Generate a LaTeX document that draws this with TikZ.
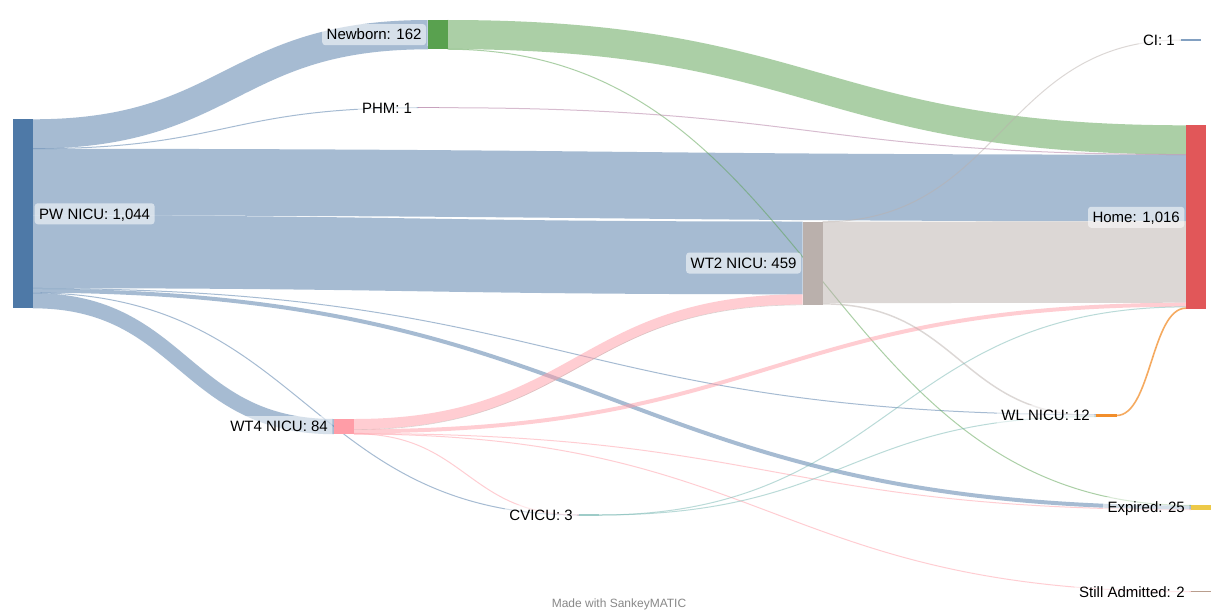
\documentclass[tikz,border=0pt]{standalone}
\usepackage{fontspec}
\setmainfont{Liberation Sans}
\usetikzlibrary{calc}
\definecolor{cblue}{HTML}{4E79A7}
\definecolor{corange}{HTML}{F28E2B}
\definecolor{cred}{HTML}{E15759}
\definecolor{cteal}{HTML}{76B7B2}
\definecolor{cgreen}{HTML}{59A14F}
\definecolor{cyellow}{HTML}{EDC948}
\definecolor{cpurple}{HTML}{B07AA1}
\definecolor{cpink}{HTML}{FF9DA7}
\definecolor{cbrown}{HTML}{9C755F}
\definecolor{cgray}{HTML}{BAB0AC}
\definecolor{credit}{HTML}{888888}
\tikzset{
  sknode/.style={rectangle, inner sep=0pt, outer sep=0pt, minimum width=20pt, anchor=north west, draw=none},
  lbl/.style={rectangle, rounded corners=3pt, fill=white, fill opacity=0.55, text opacity=1,
    inner xsep=4.5pt, inner ysep=0pt, minimum height=21pt, text height=14pt, text depth=3.4pt,
    outer sep=0pt, font=\fontsize{15}{18}\selectfont},
  flowline/.style={draw opacity=0.5, line cap=butt},
  tinybar/.style={fill opacity=0.7},
}
\newcommand\sflow[5][]{%
  \draw[flowline,draw=#2,line width=#3pt,#1] let \p1=(#4), \p2=(#5) in
    (\p1) .. controls ({0.5*\x1+0.5*\x2},\y1) and ({0.5*\x1+0.5*\x2},\y2) .. (\p2);}
\begin{document}
\begin{tikzpicture}[x=1pt,y=-1pt]
\useasboundingbox (0,0) rectangle (1224,614);
\fill[white] (0,0) rectangle (1224,614);

% node geometry
\node[sknode,minimum width=20.3pt,minimum height=189pt] (pw) at (12.7,119.3) {};
\node[sknode,minimum height=29.33pt] (nb) at (427.7,20) {};
\node[sknode,minimum width=20.3pt,minimum height=1.2pt] (phm) at (418.3,107.1) {};
\node[sknode,minimum height=15.21pt] (wt4) at (334,419) {};
\node[sknode,minimum height=83.1pt] (wt2) at (802.7,221.5) {};
\node[sknode,minimum height=1.2pt] (cvicu) at (579,514.4) {};
\node[sknode,minimum width=20.5pt,minimum height=2.17pt] (wl) at (1096,414.41) {};
\node[sknode,minimum height=1.2pt] (ci) at (1181,39.4) {};
\node[sknode,minimum width=20.3pt,minimum height=183.93pt] (home) at (1186,125.3) {};
\node[sknode,minimum height=4.53pt] (exp) at (1191,505.3) {};
\node[sknode,minimum height=1.2pt] (still) at (1191,591.1) {};

% flow end points
\coordinate (pw-nb) at ($(pw.north east)+(0,14.66)$);
\coordinate (pw-phm) at ($(pw.north east)+(0,29.42)$);
\coordinate (pw-home) at ($(pw.north east)+(0,62.82)$);
\coordinate (pw-wt2) at ($(pw.north east)+(0,132.52)$);
\coordinate (pw-wl) at ($(pw.north east)+(0,169.18)$);
\coordinate (pw-exp) at ($(pw.north east)+(0,171.44)$);
\coordinate (pw-cv) at ($(pw.north east)+(0,173.61)$);
\coordinate (pw-wt4) at ($(pw.north east)+(0,181.40)$);
\coordinate (nb-home) at ($(nb.north east)+(0,14.57)$);
\coordinate (nb-exp) at ($(nb.north east)+(0,29.24)$);
\coordinate (wt4-wt2) at ($(wt4.north east)+(0,5.16)$);
\coordinate (wt4-g) at ($(wt4.north east)+(0,10.6)$);
\coordinate (wt4-home) at ($(wt4.north east)+(0,12.31)$);
\coordinate (wt4-exp) at ($(wt4.north east)+(0,14.48)$);
\coordinate (wt4-cv) at ($(wt4.north east)+(0,14.75)$);
\coordinate (wt4-still) at ($(wt4.north east)+(0,15.02)$);
\coordinate (wt2-pw) at ($(wt2.north west)+(0,36.39)$);
\coordinate (wt2-wt4) at ($(wt2.north west)+(0,77.94)$);
\coordinate (wt2-g) at ($(wt2.north west)+(0,83.4)$);
\coordinate (wt2-ci) at ($(wt2.north east)+(0,0.3)$);
\coordinate (wt2-home) at ($(wt2.north east)+(0,40.91)$);
\coordinate (wt2-wl) at ($(wt2.north east)+(0,82.37)$);
\coordinate (home-nb) at ($(home.north west)+(0,14.57)$);
\coordinate (home-phm) at ($(home.north west)+(0,29.24)$);
\coordinate (home-pw) at ($(home.north west)+(0,62.64)$);
\coordinate (home-wt2) at ($(home.north west)+(0,136.68)$);
\coordinate (home-wt4) at ($(home.north west)+(0,179.40)$);
\coordinate (home-cv) at ($(home.north west)+(0,181.58)$);
\coordinate (home-wl) at ($(home.north west)+(0,182.85)$);
\coordinate (wl-pw) at ($(wl.north west)+(0,0.27)$);
\coordinate (wl-wt2) at ($(wl.north west)+(0,1.27)$);
\coordinate (wl-cv) at ($(wl.north west)+(0,2.09)$);
\coordinate (exp-nb) at ($(exp.north west)+(0,0.09)$);
\coordinate (exp-pw) at ($(exp.north west)+(0,2.17)$);
\coordinate (exp-wt4) at ($(exp.north west)+(0,4.35)$);

% flows
\sflow{cblue}{29.33}{pw-nb}{nb.west}
\sflow{cblue}{1}{pw-phm}{phm.west}
\sflow{cblue}{66.62}{pw-home}{home-pw}
\sflow{cblue}{72.78}{pw-wt2}{wt2-pw}
\sflow{cblue}{1}{pw-wl}{wl-pw}
\sflow{cblue}{3.98}{pw-exp}{exp-pw}
\sflow{cblue}{1}{pw-cv}{cvicu.west}
\sflow{cblue}{15.21}{pw-wt4}{wt4.west}
\sflow{cgreen}{29.15}{nb-home}{home-nb}
\sflow{cgreen}{1}{nb-exp}{exp-nb}
\sflow{cpurple}{1}{phm.east}{home-phm}
\sflow{cpink}{10.32}{wt4-wt2}{wt2-wt4}
\sflow{cgray}{0.6}{wt4-g}{wt2-g}
\sflow{cpink}{3.98}{wt4-home}{home-wt4}
\sflow{cpink}{1}{wt4-exp}{exp-wt4}
\sflow{cpink}{1}{wt4-cv}{cvicu.west}
\sflow{cpink}{1}{wt4-still}{still.west}
\sflow{cgray}{1}{wt2-ci}{ci.west}
\sflow{cgray}{81.47}{wt2-home}{home-wt2}
\sflow{cgray}{1.45}{wt2-wl}{wl-wt2}
\sflow{cteal}{1}{cvicu.east}{home-cv}
\sflow{cteal}{1}{cvicu.east}{wl-cv}
\sflow[draw opacity=0.75]{corange}{1.6}{wl.east}{home-wl}

% node bars
\fill[cblue] (pw.north west) rectangle (pw.south east);
\fill[cgreen] (nb.north west) rectangle (nb.south east);
\fill[cpurple,tinybar] (phm.north west) rectangle (phm.south east);
\fill[cpink] (wt4.north west) rectangle (wt4.south east);
\fill[cgray] (wt2.north west) rectangle (wt2.south east);
\fill[cteal,tinybar] (cvicu.north west) rectangle (cvicu.south east);
\fill[corange] (wl.north west) rectangle (wl.south east);
\fill[cblue,tinybar] (ci.north west) rectangle (ci.south east);
\fill[cred] (home.north west) rectangle (home.south east);
\fill[cyellow] (exp.north west) rectangle (exp.south east);
\fill[cbrown,tinybar] (still.north west) rectangle (still.south east);

% labels
\node[lbl,anchor=west] (pw-l) at ([xshift=1.7pt]pw.east) {PW NICU: 1,044};
\node[lbl,anchor=east] (nb-l) at ([xshift=-1.7pt]nb.west) {Newborn: 162};
\node[lbl,anchor=east] (phm-l) at ([xshift=-1.7pt]phm.west) {PHM: 1};
\node[lbl,anchor=east] (wt4-l) at ([xshift=-1.7pt]wt4.west) {WT4 NICU: 84};
\node[lbl,anchor=east] (wt2-l) at ([xshift=-1.7pt]wt2.west) {WT2 NICU: 459};
\node[lbl,anchor=east] (cvicu-l) at ([xshift=-1.7pt]cvicu.west) {CVICU: 3};
\node[lbl,anchor=east] (wl-l) at ([xshift=-1.7pt]wl.west) {WL NICU: 12};
\node[lbl,anchor=east] (ci-l) at ([xshift=-1.7pt]ci.west) {CI: 1};
\node[lbl,anchor=east] (home-l) at ([xshift=-1.7pt]home.west) {Home: 1,016};
\node[lbl,anchor=east] (exp-l) at ([xshift=-1.7pt]exp.west) {Expired: 25};
\node[lbl,anchor=east] (still-l) at ([xshift=-1.7pt]still.west) {Still Admitted: 2};

\node[font=\fontsize{12}{14}\selectfont, text=credit, inner sep=0pt] (credit-l) at (619,604) {Made with SankeyMATIC};
\end{tikzpicture}
\end{document}
